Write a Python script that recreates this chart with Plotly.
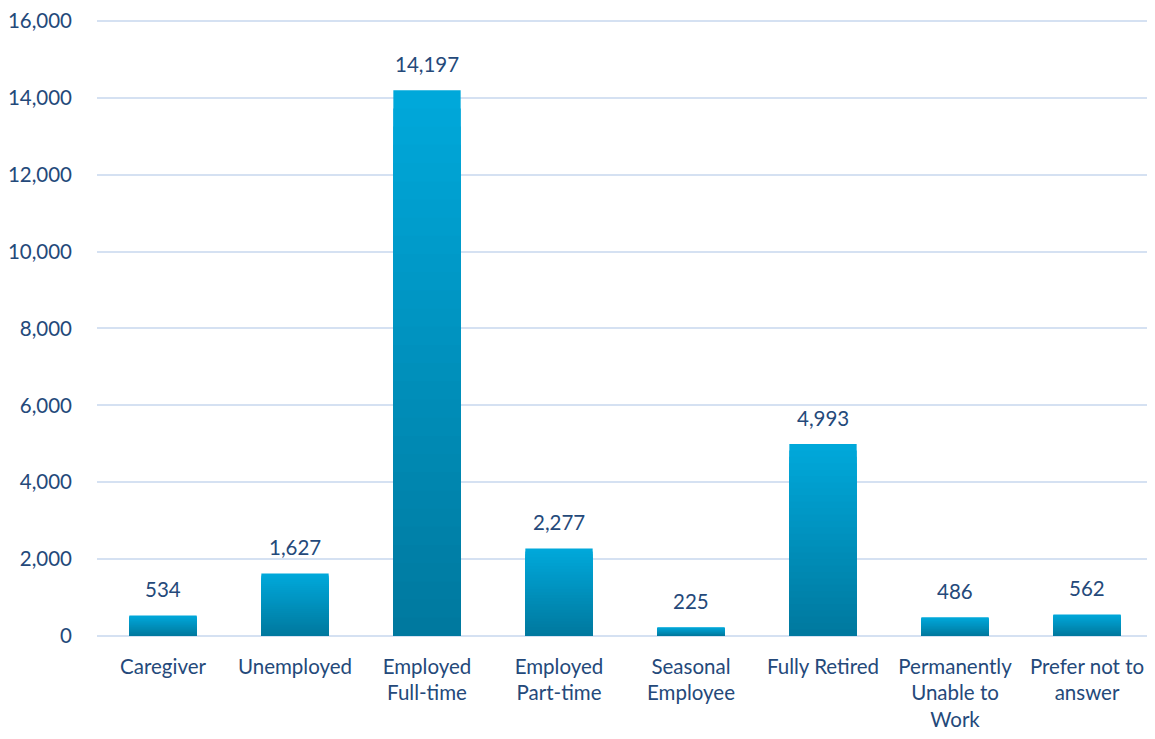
import plotly.graph_objects as go

categories = ["Caregiver", "Unemployed", "Employed<br>Full-time", "Employed<br>Part-time",
              "Seasonal<br>Employee", "Fully Retired", "Permanently<br>Unable to<br>Work",
              "Prefer not to<br>answer"]
values = [534, 1627, 14197, 2277, 225, 4993, 486, 562]
tick_vals = [0, 2000, 4000, 6000, 8000, 10000, 12000, 14000, 16000]

FONT = "Lato, 'Open Sans', sans-serif"
TEXT_COLOR = "#24497a"
FS = 20.5

top_rgb = (0, 168, 218)
bot_rgb = (0, 121, 159)
N = 30

fig = go.Figure()
for k in range(N):
    frac = 1 - k / N
    t = k / (N - 1)
    r = round(top_rgb[0] + (bot_rgb[0] - top_rgb[0]) * t)
    g = round(top_rgb[1] + (bot_rgb[1] - top_rgb[1]) * t)
    b = round(top_rgb[2] + (bot_rgb[2] - top_rgb[2]) * t)
    fig.add_trace(go.Bar(
        x=categories, y=[v * frac for v in values],
        marker=dict(color=f"rgb({r},{g},{b})", line=dict(width=0)),
        width=0.51, hoverinfo="skip", showlegend=False,
    ))

for c, v in zip(categories, values):
    fig.add_annotation(x=c, y=v, text=f"{v:,}", showarrow=False,
                       yanchor="bottom", yshift=12,
                       font=dict(family=FONT, size=FS, color=TEXT_COLOR))

fig.update_layout(
    barmode="overlay",
    width=1155, height=739,
    margin=dict(l=89, r=10, t=11, b=111, autoexpand=False),
    paper_bgcolor="white", plot_bgcolor="white",
    font=dict(family=FONT, size=FS, color=TEXT_COLOR),
    showlegend=False,
)
fig.update_yaxes(range=[0, 16050], tickvals=tick_vals, tickformat=",",
                 gridcolor="#d5e1f2", gridwidth=1.5, zeroline=True,
                 zerolinecolor="#d5e1f2", zerolinewidth=1.5,
                 ticks="", ticklabelstandoff=24, automargin=False,
                 ticklabeloverflow="allow",
                 tickfont=dict(family=FONT, size=FS, color=TEXT_COLOR))
fig.update_xaxes(showgrid=False, ticks="", showline=False, automargin=False,
                 tickfont=dict(family=FONT, size=FS, color=TEXT_COLOR),
                 ticklabelstandoff=16)

fig.write_html("out.html")
